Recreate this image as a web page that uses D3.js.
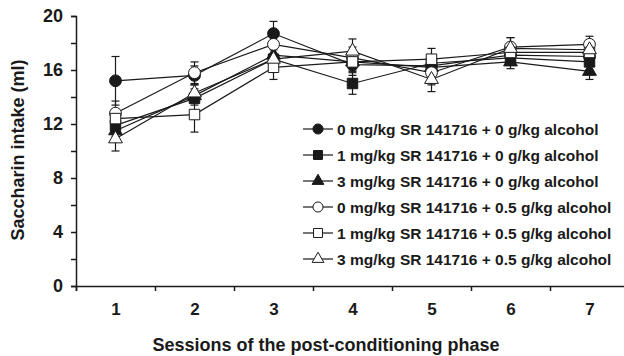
<!DOCTYPE html>
<html>
<head>
<meta charset="utf-8">
<script src="https://cdn.jsdelivr.net/npm/d3@7"></script>
<style>
  body { margin: 0; background: #fff; }
  text { font-family: "Liberation Sans", Arial, sans-serif; font-weight: bold; fill: #1a1a1a; }
</style>
</head>
<body>
<div id="chart"></div>
<script>
var sessions = [1, 2, 3, 4, 5, 6, 7];

var labels = [
  "0 mg/kg SR 141716 + 0 g/kg alcohol",
  "1 mg/kg SR 141716 + 0 g/kg alcohol",
  "3 mg/kg SR 141716 + 0 g/kg alcohol",
  "0 mg/kg SR 141716 + 0.5 g/kg alcohol",
  "1 mg/kg SR 141716 + 0.5 g/kg alcohol",
  "3 mg/kg SR 141716 + 0.5 g/kg alcohol"
];

// mean intake (ml) per session
var sr0_alc0   = [15.2, 15.6, 18.7, 16.4, 16.3, 17.1, 17.0];
var sr1_alc0   = [11.9, 13.9, 16.8, 15.0, 16.5, 16.9, 16.6];
var sr3_alc0   = [11.5, 14.1, 17.1, 16.6, 16.2, 16.6, 15.9];
var sr0_alc05  = [12.8, 15.8, 17.9, 16.9, 15.8, 17.7, 17.9];
var sr1_alc05  = [12.4, 12.7, 16.2, 16.6, 16.8, 17.3, 17.3];
var sr3_alc05  = [10.9, 14.3, 16.8, 17.4, 15.3, 17.6, 17.5];

// SEM
var sem_sr0_alc0  = [1.8, 0.7, 0.9, 0.8, 0.8, 0.6, 0.6];
var sem_sr1_alc0  = [0.8, 0.5, 0.8, 0.8, 0.6, 0.5, 0.6];
var sem_sr3_alc0  = [0.8, 0.5, 0.6, 0.6, 0.6, 0.5, 0.6];
var sem_sr0_alc05 = [0.9, 0.8, 0.8, 0.8, 0.9, 0.7, 0.6];
var sem_sr1_alc05 = [0.7, 1.3, 0.9, 0.7, 0.8, 0.6, 0.6];
var sem_sr3_alc05 = [0.9, 0.6, 0.7, 0.9, 0.9, 0.8, 0.7];

var yTicks = [0, 2, 4, 6, 8, 10, 12, 14, 16, 18, 20];

var series = [
  {name: labels[0], values: sr0_alc0,  sem: sem_sr0_alc0,  shape: d3.symbolCircle,   fill: "#1a1a1a"},
  {name: labels[1], values: sr1_alc0,  sem: sem_sr1_alc0,  shape: d3.symbolSquare,   fill: "#1a1a1a"},
  {name: labels[2], values: sr3_alc0,  sem: sem_sr3_alc0,  shape: d3.symbolTriangle, fill: "#1a1a1a"},
  {name: labels[3], values: sr0_alc05, sem: sem_sr0_alc05, shape: d3.symbolCircle,   fill: "#fff"},
  {name: labels[4], values: sr1_alc05, sem: sem_sr1_alc05, shape: d3.symbolSquare,   fill: "#fff"},
  {name: labels[5], values: sr3_alc05, sem: sem_sr3_alc05, shape: d3.symbolTriangle, fill: "#fff"}
];

var width = 624, height = 356;
var svg = d3.select("#chart").append("svg")
    .attr("width", width)
    .attr("height", height);

var x = d3.scaleLinear().domain([0.5, 7.5]).range([76, 629]);
var y = d3.scaleLinear().domain([0, 20]).range([286, 16]);

function symSize(shape) {
  if (shape === d3.symbolTriangle) return 75;
  return 100;
}

// axes
var yAxis = svg.append("g")
    .attr("transform", "translate(76,0)")
    .call(d3.axisLeft(y).tickValues(yTicks).tickSize(5).tickPadding(8)
      .tickFormat(function(d) { return d % 4 === 0 ? d : ""; }));
yAxis.selectAll("text").style("font-size", "18px");

svg.append("g")
    .attr("transform", "translate(0,286)")
    .call(d3.axisBottom(x).tickValues([0.5, 1.5, 2.5, 3.5, 4.5, 5.5, 6.5]).tickSize(5).tickFormat(""));
var xLabels = svg.append("g")
    .attr("transform", "translate(0,286)")
    .call(d3.axisBottom(x).tickValues(sessions).tickSize(0).tickPadding(17).tickFormat(d3.format("d")));
xLabels.select(".domain").remove();
xLabels.selectAll("text").style("font-size", "17px");

svg.selectAll(".domain, .tick line").attr("stroke", "#1a1a1a").attr("stroke-width", 1.5);

svg.append("text")
    .attr("transform", "translate(24,150) rotate(-90)")
    .attr("text-anchor", "middle")
    .style("font-size", "18px")
    .text("Saccharin intake (ml)");

svg.append("text")
    .attr("x", 326)
    .attr("y", 351)
    .attr("text-anchor", "middle")
    .style("font-size", "18px")
    .text("Sessions of the post-conditioning phase");

// legend
var legend = svg.append("g");
series.forEach(function(s, i) {
  var ly = 129 + i * 26;
  legend.append("line")
      .attr("x1", 303).attr("x2", 333)
      .attr("y1", ly).attr("y2", ly)
      .attr("stroke", "#1a1a1a").attr("stroke-width", 1.2);
  legend.append("path")
      .attr("d", d3.symbol().type(s.shape).size(symSize(s.shape) * 0.8)())
      .attr("transform", "translate(318," + ly + ")")
      .attr("fill", s.fill)
      .attr("stroke", "#1a1a1a").attr("stroke-width", 1);
  legend.append("text")
      .attr("x", 337).attr("y", ly + 5.5)
      .style("font-size", "15.5px")
      .text(s.name);
});

var line = d3.line()
    .x(function(d, i) { return x(sessions[i]); })
    .y(function(d) { return y(d); });

var plot = svg.append("g");

series.forEach(function(s) {
  plot.append("path")
      .datum(s.values)
      .attr("d", line)
      .attr("fill", "none")
      .attr("stroke", "#1a1a1a")
      .attr("stroke-width", 1.2);
});

series.forEach(function(s) {
  s.values.forEach(function(v, i) {
    var cx = x(sessions[i]);
    var g = plot.append("g").attr("stroke", "#1a1a1a").attr("stroke-width", 1.2);
    g.append("line").attr("x1", cx).attr("x2", cx)
        .attr("y1", y(v - s.sem[i])).attr("y2", y(v + s.sem[i]));
    g.append("line").attr("x1", cx - 4).attr("x2", cx + 4)
        .attr("y1", y(v + s.sem[i])).attr("y2", y(v + s.sem[i]));
    g.append("line").attr("x1", cx - 4).attr("x2", cx + 4)
        .attr("y1", y(v - s.sem[i])).attr("y2", y(v - s.sem[i]));
  });
});

series.forEach(function(s) {
  plot.selectAll(null)
      .data(s.values)
      .enter().append("path")
      .attr("d", d3.symbol().type(s.shape).size(symSize(s.shape) * 1.1)())
      .attr("transform", function(d, i) { return "translate(" + x(sessions[i]) + "," + y(d) + ")"; })
      .attr("fill", s.fill)
      .attr("stroke", "#1a1a1a")
      .attr("stroke-width", 1);
});
</script>
</body>
</html>
